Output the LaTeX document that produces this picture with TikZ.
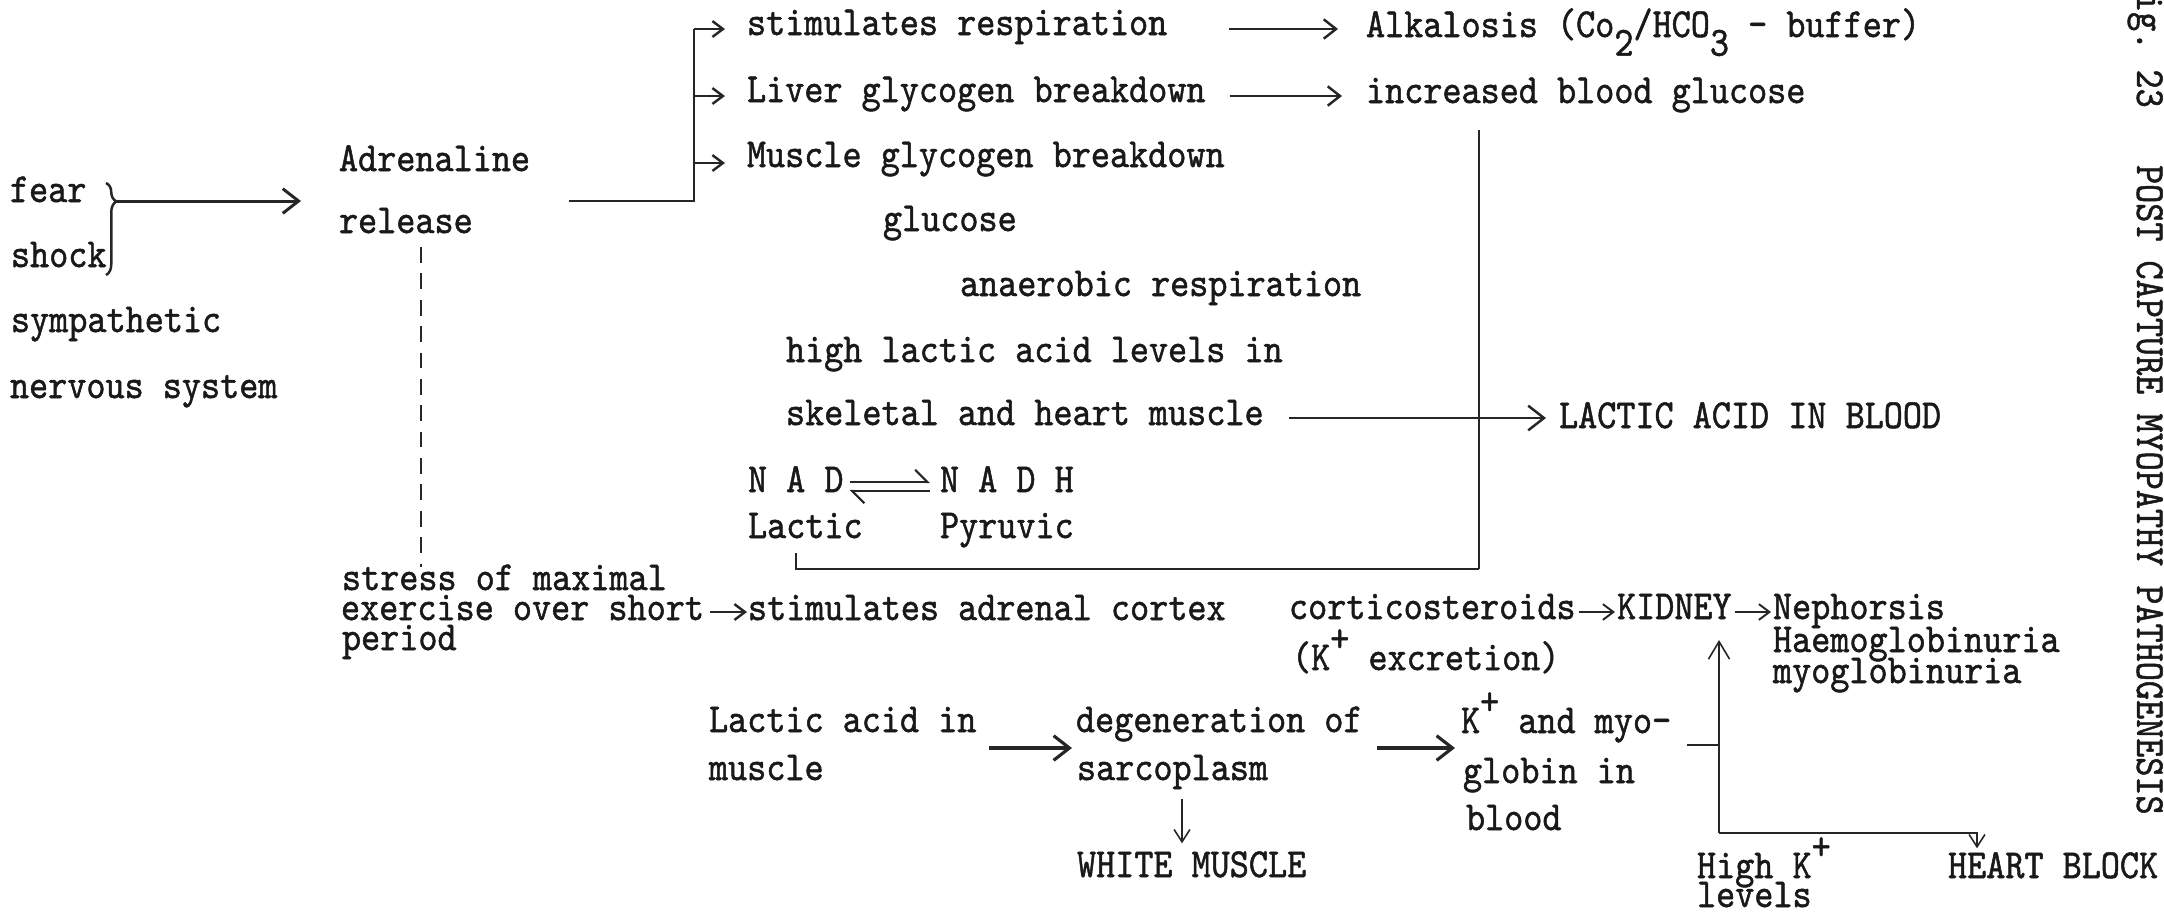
\documentclass[tikz,border=0pt]{standalone}
\usepackage{fontspec}
\setmonofont{lmmono10-regular.otf}[FakeStretch=0.88,FakeBold=1.2]
\usetikzlibrary{arrows.meta,decorations.pathreplacing,calc}
\newcommand\kp{\raisebox{0.45em}{+}}
\newcommand\sbx[1]{\raisebox{-0.45em}{#1}}
\begin{document}
\begin{tikzpicture}[x=0.01cm,y=-0.01cm,
  txt/.style={font=\ttfamily\fontsize{11.76}{13}\selectfont, inner sep=0pt, outer sep=0pt, anchor=base west, text=black!90},
  ln/.style={line width=0.7pt, draw=black!85},
  thin/.style={line width=0.45pt, draw=black!85},
  bigarr/.style={ln, -{Straight Barb[length=4.5pt,width=7pt]}},
  medarr/.style={ln, -{Straight Barb[length=3.5pt,width=5.5pt]}},
  smallarr/.style={ln, -{Straight Barb[length=3pt,width=4.5pt]}},
  harp/.style={line width=0.6pt, draw=black!85, -{Straight Barb[harpoon,length=3.5pt,width=7pt]}},
  dashln/.style={line width=0.6pt, draw=black!85, dash pattern=on 4.5pt off 3pt},
]
\useasboundingbox (0,0) rectangle (2164,914);

% left column
\node[txt] (fear)  at (10,202) {fear};
\node[txt] (shock) at (11,267) {shock};
\node[txt] (symp)  at (11,332) {sympathetic};
\node[txt] (nerv)  at (10,398) {nervous system};
\node[txt] (adr)   at (339,171) {Adrenaline};
\node[txt] (rel)   at (339,233) {release};

% top block
\node[txt] (stim)   at (747,35)  {stimulates respiration};
\node[txt] (liver)  at (747,102) {Liver glycogen breakdown};
\node[txt] (muscle) at (747,167) {Muscle glycogen breakdown};
\node[txt] (alk)    at (1366,37) {Alkalosis (Co\sbx{2}/HCO\sbx{3} - buffer)};
\node[txt] (incr)   at (1366,103) {increased blood glucose};
\node[txt] (gluc)   at (883,231) {glucose};
\node[txt] (anaer)  at (960,296) {anaerobic respiration};
\node[txt] (high)   at (786,362) {high lactic acid levels in};
\node[txt] (skel)   at (786,425) {skeletal and heart muscle};
\node[txt] (lab)    at (1559,428) {LACTIC ACID IN BLOOD};
\node[txt] (nad)    at (748,492) {N A D};
\node[txt] (nadh)   at (940,492) {N A D H};
\node[txt] (lactic) at (748,538) {Lactic};
\node[txt] (pyr)    at (940,538) {Pyruvic};

% middle
\node[txt] (stress) at (342,590) {stress of maximal};
\node[txt] (exer)   at (341,620) {exercise over short};
\node[txt] (period) at (342,650) {period};
\node[txt] (adrc)   at (748,620) {stimulates adrenal cortex};
\node[txt] (cort)   at (1289,619) {corticosteroids};
\node[txt] (kex)    at (1292,670) {(K\kp{} excretion)};
\node[txt] (kid)    at (1617,619) {KIDNEY};
\node[txt] (neph)   at (1773,619) {Nephorsis};
\node[txt] (haem)   at (1773,652) {Haemoglobinuria};
\node[txt] (myog)   at (1773,683) {myoglobinuria};

% bottom
\node[txt] (lam)   at (709,732) {Lactic acid in};
\node[txt] (mus)   at (709,780) {muscle};
\node[txt] (degen) at (1076,732) {degeneration of};
\node[txt] (sarc)  at (1077,780) {sarcoplasm};
\node[txt] (white) at (1077,877) {WHITE MUSCLE};
\node[txt] (kmyo)  at (1461,733) {K\kp{} and myo-};
\node[txt] (glob)  at (1463,783) {globin in};
\node[txt] (blood) at (1466,830) {blood};
\node[txt] (highk) at (1697,878) {High K\kp};
\node[txt] (lev)   at (1697,907) {levels};
\node[txt] (heart) at (1948,878) {HEART BLOCK};

% title
\begin{scope}
\clip (0,0) rectangle (2164,914);
\node[txt, rotate=-90] (title) at (2137,-26) {Fig.~23~~~POST CAPTURE MYOPATHY PATHOGENESIS};
\end{scope}

% brace and arrow to adrenaline
\draw[ln, decorate, decoration={brace, amplitude=3pt, aspect=0.2}] (106,183) -- (106,275);
\coordinate (bracetip) at (117,201);
\draw[bigarr, line width=0.85pt] (bracetip) -- ($(adr.west|-bracetip)+(-38,0)$);

% release to three branches
\coordinate (relout) at ($(rel.east|-bracetip)+(96,0)$);
\coordinate (split) at (694,201);
\coordinate (b1) at (694,29);
\coordinate (b2) at (694,96);
\coordinate (b3) at (694,163);
\draw[ln] (relout) -- (split) -- (b1);
\draw[smallarr] (b1) -- ($(stim.west|-b1)+(-22,0)$);
\draw[smallarr] (b2) -- ($(liver.west|-b2)+(-22,0)$);
\draw[smallarr] (b3) -- ($(muscle.west|-b3)+(-22,0)$);

\draw[medarr] ($(stim.east|-b1)+(62,0)$) -- ($(alk.west|-b1)+(-28,0)$);
\draw[medarr] ($(liver.east|-b2)+(24,0)$) -- ($(incr.west|-b2)+(-24,0)$);

% skeletal -> lactic acid in blood
\coordinate (la) at (0,418);
\draw[bigarr] ($(skel.east|-la)+(25,0)$) -- ($(lab.west|-la)+(-13,0)$);

% NAD harpoons
\coordinate (hu) at (0,482);
\coordinate (hd) at (0,491);
\draw[harp] ($(nad.east|-hu)+(6,0)$) -- ($(nadh.west|-hu)+(-10,0)$);
\draw[harp] ($(nadh.west|-hd)+(-10,0)$) -- ($(nad.east|-hd)+(6,0)$);

% lactic loop to blood glucose line
\coordinate (lp1) at (796,553);
\coordinate (lp2) at (796,569);
\coordinate (lp3) at (1479,569);
\coordinate (lp4) at (1479,130);
\draw[ln] (lp1) -- (lp2) -- (lp3);
\draw[line width=0.5pt, draw=black!85] (lp3) -- (lp4);

% dashed link release -> stress
\coordinate (d1) at (421,247);
\coordinate (d2) at (421,567);
\draw[dashln] (d1) -- (d2);

% exercise -> adrenal cortex
\coordinate (ea) at (0,612);
\draw[smallarr] ($(exer.east|-ea)+(6,0)$) -- ($(adrc.west|-ea)+(-1,0)$);
\draw[smallarr, line width=0.55pt] ($(cort.east|-ea)+(3,0)$) -- ($(kid.west|-ea)+(-2,0)$);
\draw[smallarr, line width=0.55pt] ($(kid.east|-ea)+(3,0)$) -- ($(neph.west|-ea)+(-2,0)$);

% bottom chain
\coordinate (la2) at (0,748);
\draw[bigarr, line width=0.9pt] ($(lam.east|-la2)+(12,0)$) -- ($(degen.west|-la2)+(-4,0)$);
\draw[bigarr, line width=0.9pt] ($(degen.east|-la2)+(14,0)$) -- ($(kmyo.west|-la2)+(-6,0)$);
\coordinate (sw) at (1182,0);
\draw[thin, -{Straight Barb[length=3.5pt,width=4.5pt]}] ($(sarc.south -| sw)+(0,10)$) -- ($(white.north -| sw)+(0,-8)$);

% K+ branch
\coordinate (kj) at (1719,745);
\coordinate (kb) at (1719,833);
\coordinate (hb) at (1977,833);
\draw[ln] ($(kmyo.east|-kj)+(16,0)$) -- (kj);
\draw[thin, -{Straight Barb[length=5pt,width=6pt]}] (kb) -- ($(kid.south -| kb)+(0,21)$);
\draw[thin, -{Straight Barb[length=3.5pt,width=4.5pt]}] (kb) -- (hb) -- ($(heart.north -| hb)+(0,-4)$);
\end{tikzpicture}
\end{document}
